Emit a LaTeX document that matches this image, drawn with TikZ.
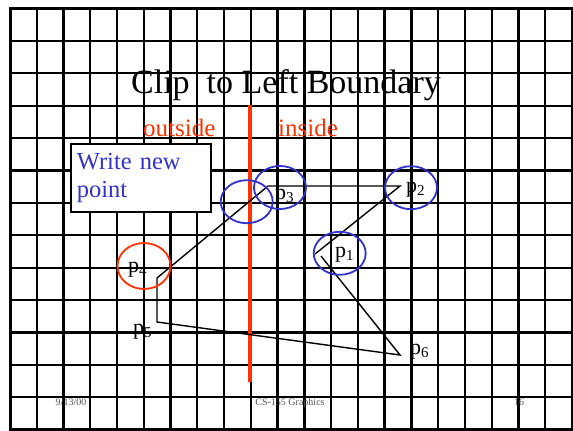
\documentclass[tikz,border=0pt]{standalone}
\usepackage{fontspec}
\setmainfont{Liberation Serif}
\usetikzlibrary{shapes.geometric}

\definecolor{clipred}{HTML}{FF3300}
\definecolor{ringblue}{HTML}{3333CC}
\definecolor{footgray}{HTML}{555555}

% point label with a lowered index
\newcommand{\ptlab}[1]{p\raisebox{-3.5pt}{\fontsize{15}{15}\selectfont #1}}

\begin{document}
\begin{tikzpicture}[x=1pt, y=-1pt,
      gridline/.style={draw=black, line width=2.3pt},
      frame/.style={draw=black, line width=3pt},
      boundary/.style={draw=clipred, line width=4pt},
      edge/.style={draw=black, line width=1.4pt},
      ring/.style={ellipse, draw=ringblue, line width=1.8pt,
                   minimum width=52pt, minimum height=43pt, inner sep=0pt},
      redring/.style={ring, draw=clipred, minimum width=53pt, minimum height=46pt},
      notebox/.style={rectangle, draw=black, line width=1.8pt, fill=white,
                      text=ringblue, align=left, text width=128pt,
                      minimum height=68pt, inner xsep=6pt, inner ysep=5pt,
                      font=\fontsize{24.5}{28}\selectfont},
      side/.style={text=clipred, inner sep=0pt, anchor=base west,
                   font=\fontsize{25}{28}\selectfont},
      plab/.style={inner sep=0pt, anchor=base west,
                   font=\fontsize{22}{24}\selectfont},
      foot/.style={text=footgray, inner sep=0pt, anchor=base,
                   font=\fontsize{10}{12}\selectfont},
    ]

    \fill[white] (0,0) rectangle (573,431);
    \useasboundingbox (0,0) rectangle (573,431);

    % ---- background grid -------------------------------------------
    \foreach \i in {1,...,20}
      \draw[gridline] (10+26.76*\i, 8.5) -- (10+26.76*\i, 429.7);
    \foreach \j in {1,...,12}
      \draw[gridline] (10, 8.5+32.4*\j) -- (572, 8.5+32.4*\j);
    \draw[frame] (10,8.5) rectangle (572,429.7);

    % ---- title and sides -------------------------------------------
    \node[inner sep=0pt, anchor=base, font=\fontsize{34}{40}\selectfont]
      (title) at (286,93) {Clip~~to Left Boundary};
    \node[side] (outl) at (143,136) {outside};
    \node[side] (inl) at (278,136) {inside};

    \coordinate (btop) at (250,105);
    \coordinate (bbot) at (250,382);
    \draw[boundary] (btop) -- (bbot);

    % ---- polygon ---------------------------------------------------
    \coordinate (v1) at (315,254);
    \coordinate (v2) at (400,186);
    \coordinate (v3) at (268,186);
    \coordinate (v4) at (157,278);
    \coordinate (v5) at (157,322);
    \coordinate (v6) at (400,355);
    \coordinate (v1b) at (321,256);
    \draw[edge] (v1) -- (v2) -- (v3) -- (v4) -- (v5) -- (v6) -- (v1b);

    % ---- marked points ---------------------------------------------
    \node[ring] (cross) at (246.7,201.7) {};
    \node[ring] (r3) at (280,187.5) {};
    \node[ring] (r2) at (411,187.7) {};
    \node[ring] (r1) at (339.7,253.3) {};
    \node[redring] (r4) at (144,266) {};

    \node[plab] (p3) at (275,199) {\ptlab{3}};
    \node[plab] (p2) at (406,192) {\ptlab{2}};
    \node[plab] (p1) at (335,257) {\ptlab{1}};
    \node[plab] (p4) at (128,272) {\ptlab{4}};
    \node[plab] (p5) at (133,334) {\ptlab{5}};
    \node[plab] (p6) at (410,354) {\ptlab{6}};

    % ---- note ------------------------------------------------------
    \node[notebox, anchor=north west] (note) at (70,143) {Write new\\point};

    % ---- footer ----------------------------------------------------
    \node[foot] (date) at (71,405) {9/13/00};
    \node[foot] (course) at (290,405) {CS-155 Graphics};
    \node[foot] (page) at (519,405) {16};

  \end{tikzpicture}
\end{document}
